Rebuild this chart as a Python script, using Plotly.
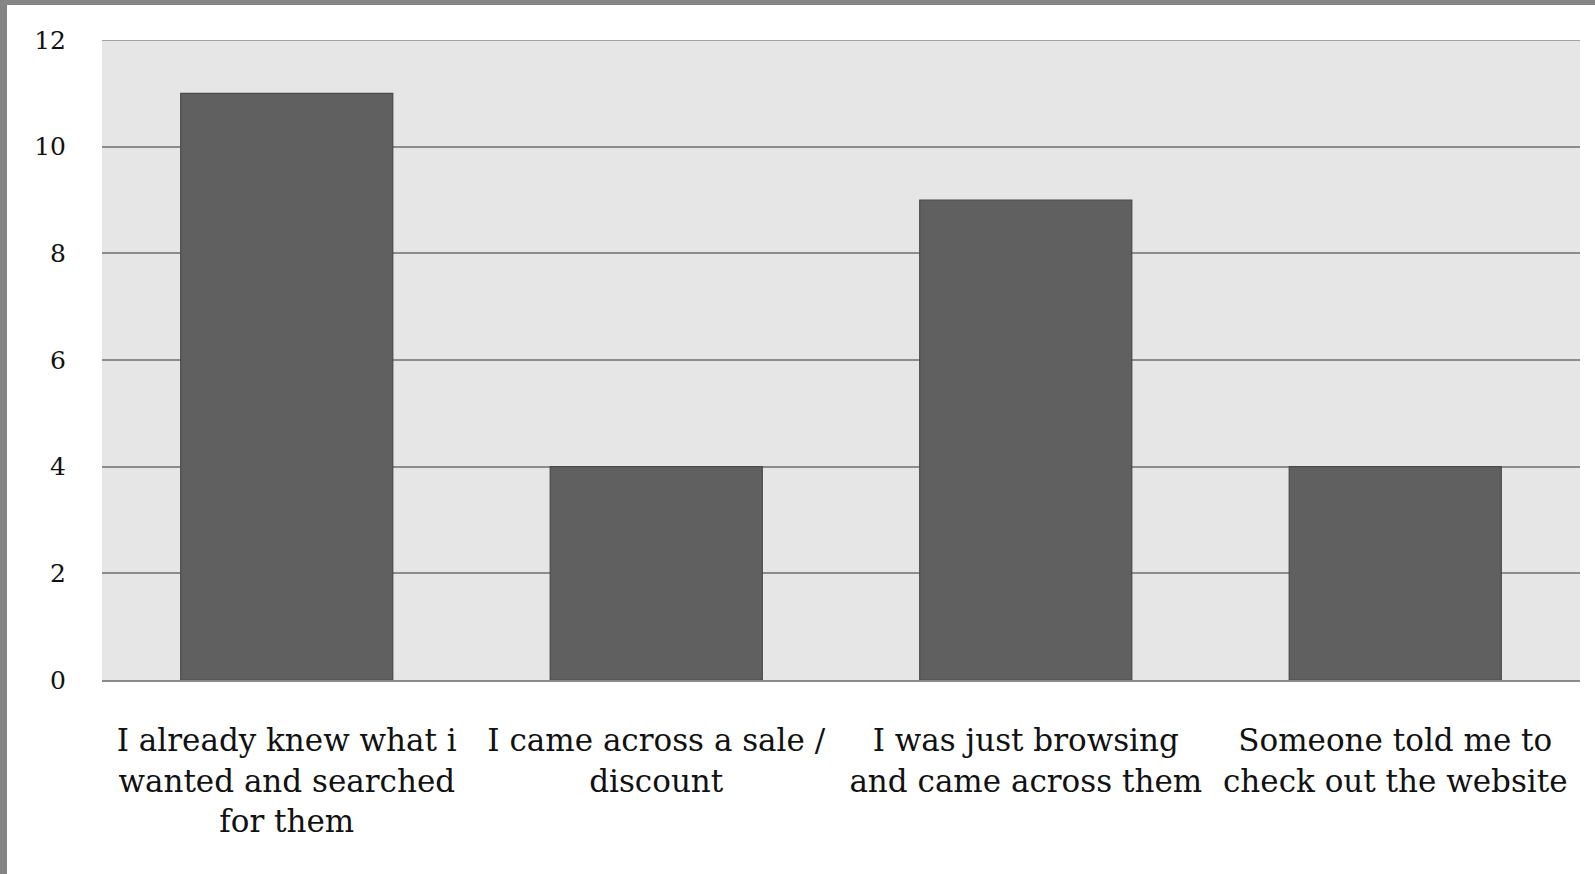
import plotly.graph_objects as go

categories = [
    "I already knew what i<br>wanted and searched<br>for them",
    "I came across a sale /<br>discount",
    "I was just browsing<br>and came across them",
    "Someone told me to<br>check out the website",
]
values = [11, 4, 9, 4]
y_ticks = [0, 2, 4, 6, 8, 10, 12]

W, H = 1595, 874
ml, mr, mt, mb = 102, 15, 40, 194

fig = go.Figure(go.Bar(
    x=categories, y=values,
    marker=dict(color="#606060", line=dict(color="#4a4a4a", width=1.2)),
))

pw = W - ml - mr
ph = H - mt - mb

def px_to_paper_x(px):
    return (px - ml) / pw

def px_to_paper_y(py):
    return (H - mb - py) / ph

shapes = [
    # left frame border
    dict(type="rect", xref="paper", yref="paper",
         x0=px_to_paper_x(0), x1=px_to_paper_x(7),
         y0=px_to_paper_y(H), y1=px_to_paper_y(0),
         fillcolor="#848484", line=dict(width=0), layer="above"),
    # top frame border
    dict(type="rect", xref="paper", yref="paper",
         x0=px_to_paper_x(0), x1=px_to_paper_x(W),
         y0=px_to_paper_y(5), y1=px_to_paper_y(0),
         fillcolor="#868686", line=dict(width=0), layer="above"),
    # top gridline (plotly omits the one at the range edge)
    dict(type="line", xref="paper", yref="y",
         x0=0, x1=1, y0=y_ticks[-1], y1=y_ticks[-1],
         line=dict(color="#8c8c8c", width=1.5), layer="below"),
]

fig.update_layout(
    width=W, height=H,
    margin=dict(l=ml, r=mr, t=mt, b=mb),
    paper_bgcolor="white",
    plot_bgcolor="#e6e6e6",
    bargap=0.426,
    showlegend=False,
    font=dict(family="DejaVu Serif, Liberation Serif, serif", color="#111111"),
    shapes=shapes,
    xaxis=dict(
        showgrid=False, zeroline=False,
        showline=True, linecolor="#8a8a8a", linewidth=2,
        ticks="", tickfont=dict(size=31, color="#111111"),
        ticklabelstandoff=32,
    ),
    yaxis=dict(
        range=[0, 12], tickvals=y_ticks,
        showgrid=True, gridcolor="#8c8c8c", gridwidth=1.5,
        zeroline=False, showline=False,
        ticks="", tickfont=dict(size=25, color="#111111"),
        ticklabelstandoff=35,
    ),
)

fig.write_html("out.html")
